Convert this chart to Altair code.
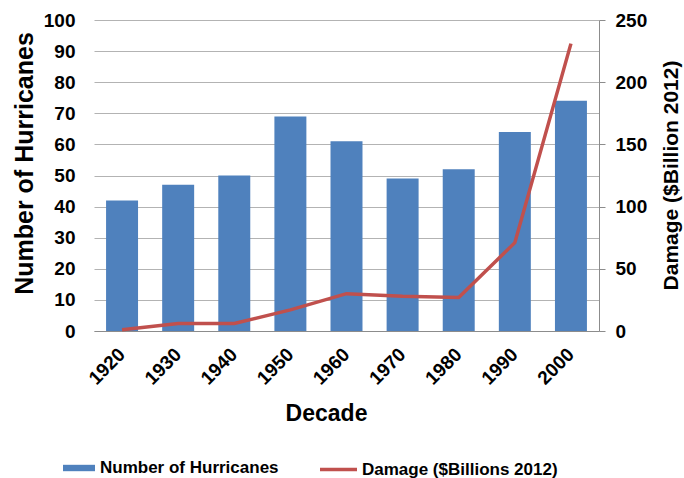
import altair as alt
import pandas as pd

# Decade categories and the two series
decades = ["1920", "1930", "1940", "1950", "1960", "1970", "1980", "1990", "2000"]
hurricanes = [42, 47, 50, 69, 61, 49, 52, 64, 74]
damage = [1, 6, 6, 17, 30, 28, 27, 71, 231]

left_ticks = list(range(0, 101, 10))
right_ticks = list(range(0, 251, 50))

BAR_LABEL = "Number of Hurricanes"
LINE_LABEL = "Damage ($Billions 2012)"

BLUE = "#4f81bd"
RED = "#c0504d"
GRID = "#b3b3b3"
AXIS = "#8c8c8c"
FONT = "Liberation Sans"

df = pd.DataFrame({
    "Decade": decades,
    "Hurricanes": hurricanes,
    "Damage": damage,
    "bar_series": BAR_LABEL,
    "line_series": LINE_LABEL,
})

x_scale = alt.Scale(domain=decades, paddingInner=0.43, paddingOuter=0.215)

bars = alt.Chart(df).mark_bar().encode(
    x=alt.X(
        "Decade:O",
        scale=x_scale,
        axis=alt.Axis(
            title="Decade",
            labelAngle=-45,
            labelAlign="right",
            labelBaseline="middle",
            labelPadding=20,
            ticks=False,
            tickSize=0,
            domainColor=AXIS,
            grid=False,
            titleFontSize=23,
            titleX=232,
            titleY=89,
            titleBaseline="alphabetic",
        ),
    ),
    y=alt.Y(
        "Hurricanes:Q",
        scale=alt.Scale(domain=[0, 100], nice=False),
        axis=alt.Axis(
            title="Number of Hurricanes",
            values=left_ticks,
            domain=False,
            ticks=False,
            tickSize=0,
            labelPadding=19,
            grid=True,
            gridColor=GRID,
            gridWidth=1,
            titleFontSize=25,
            titleAngle=-90,
            titleAlign="center",
            titleBaseline="middle",
            titleX=-70,
            titleY=143,
        ),
    ),
    fill=alt.Fill(
        "bar_series:N",
        scale=alt.Scale(domain=[BAR_LABEL], range=[BLUE]),
        legend=alt.Legend(
            title=None,
            orient="none",
            legendX=-31,
            legendY=432,
            symbolType="M-1,-0.2H1V0.2H-1Z",
            symbolSize=1024,
            symbolStrokeWidth=0,
            labelOffset=5,
            labelLimit=0,
        ),
    ),
)

line = alt.Chart(df).mark_line(strokeWidth=3.5).encode(
    x=alt.X("Decade:O", scale=x_scale),
    y=alt.Y(
        "Damage:Q",
        scale=alt.Scale(domain=[0, 250], nice=False),
        axis=alt.Axis(
            orient="right",
            title="Damage ($Billion 2012)",
            values=right_ticks,
            domain=True,
            domainColor=AXIS,
            ticks=True,
            tickSize=6,
            tickColor=AXIS,
            labelPadding=10,
            grid=False,
            titleFontSize=21,
            titleAngle=-90,
            titleAlign="center",
            titleBaseline="middle",
            titleX=72,
            titleY=155,
        ),
    ),
    stroke=alt.Stroke(
        "line_series:N",
        scale=alt.Scale(domain=[LINE_LABEL], range=[RED]),
        legend=alt.Legend(
            title=None,
            orient="none",
            legendX=224,
            legendY=429,
            symbolType="stroke",
            symbolSize=1369,
            symbolStrokeWidth=3.5,
            labelOffset=3,
            labelLimit=0,
        ),
    ),
)

chart = (
    alt.layer(bars, line)
    .resolve_scale(y="independent", fill="independent", stroke="independent")
    .properties(
        width=505,
        height=311,
        autosize=alt.AutoSizeParams(type="none"),
        padding={"left": 94, "top": 20, "right": 85, "bottom": 147},
    )
    .configure(font=FONT)
    .configure_view(stroke=None)
    .configure_axis(
        labelFont=FONT,
        labelFontSize=19,
        labelFontWeight="bold",
        labelColor="#000000",
        titleFont=FONT,
        titleFontWeight="bold",
        titleColor="#000000",
    )
    .configure_legend(
        labelFont=FONT,
        labelFontSize=17,
        labelFontWeight="bold",
        labelColor="#000000",
        padding=0,
        direction="horizontal",
    )
)

chart.save("out.html", embed_options={"renderer": "svg", "actions": False})
